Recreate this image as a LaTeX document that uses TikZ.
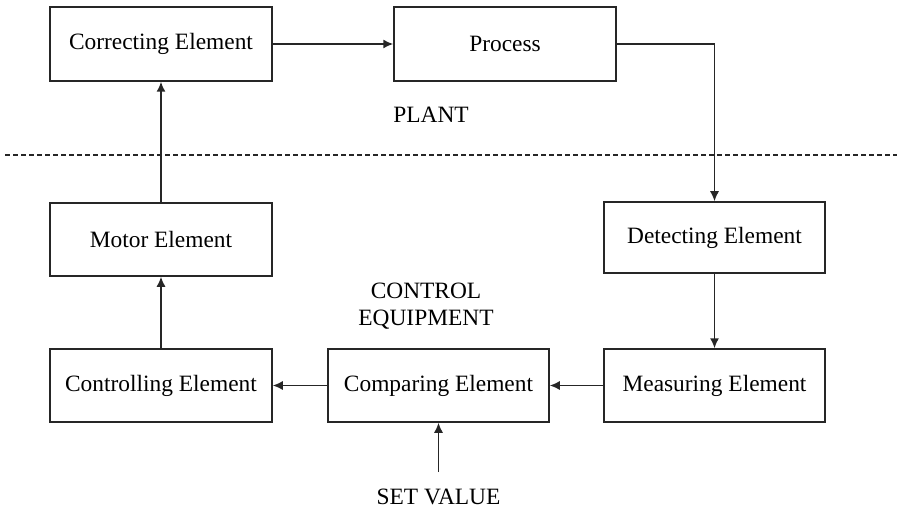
\documentclass[tikz,border=0pt]{standalone}
\usepackage{fontspec}
\setmainfont{Liberation Serif}
\usetikzlibrary{arrows.meta}
\begin{document}
\begin{tikzpicture}[x=1pt,y=-1pt,
  blk/.style={draw=black!85, line width=1.5pt, inner sep=0pt,
    minimum width=222pt, minimum height=73pt,
    font=\fontsize{23.4}{28}\selectfont},
  lbl/.style={font=\fontsize{23.4}{28}\selectfont, align=center, inner sep=0pt},
  flow/.style={draw=black!85, line width=1.5pt,
    -{Latex[length=10pt,width=9pt]}},
  sep/.style={draw=black!85, line width=1.3pt, dash pattern=on 5pt off 3pt}
]
\useasboundingbox (0,0) rectangle (897,513);

% plant blocks
\node[blk, minimum height=74pt] (corr) at (161,44) {Correcting Element};
\node[blk, minimum height=74pt] (proc) at (505,44) {Process};

% control equipment blocks
\node[blk, minimum width=221pt, minimum height=71pt] (det) at (714.5,237.5) {Detecting Element};
\node[blk, minimum width=221pt] (meas) at (714.5,385.5) {Measuring Element};
\node[blk, minimum width=221pt] (comp) at (438.5,385.5) {Comparing Element};
\node[blk] (ctrl) at (161,385.5) {Controlling Element};
\node[blk] (motor) at (161,239.5) {Motor Element};

% region labels
\node[lbl] (plant) at (431,115) {PLANT};
\node[lbl] (equip) at (426,306) {CONTROL\\[-1pt]EQUIPMENT};
\node[lbl] (setv) at (438.5,497) {SET VALUE};
\coordinate (setin) at (438.5,472);

% boundary between plant and control equipment
\draw[sep] (5,155) -- (897,155);

% signal path
\draw[flow] (corr.east) -- (proc.west);
\draw[flow] (proc.east) -| (det.north);
\draw[flow] (det.south) -- (meas.north);
\draw[flow] (meas.west) -- (comp.east);
\draw[flow] (comp.west) -- (ctrl.east);
\draw[flow] (ctrl.north) -- (motor.south);
\draw[flow] (motor.north) -- (corr.south);
\draw[flow] (setin) -- (comp.south);
\end{tikzpicture}
\end{document}
